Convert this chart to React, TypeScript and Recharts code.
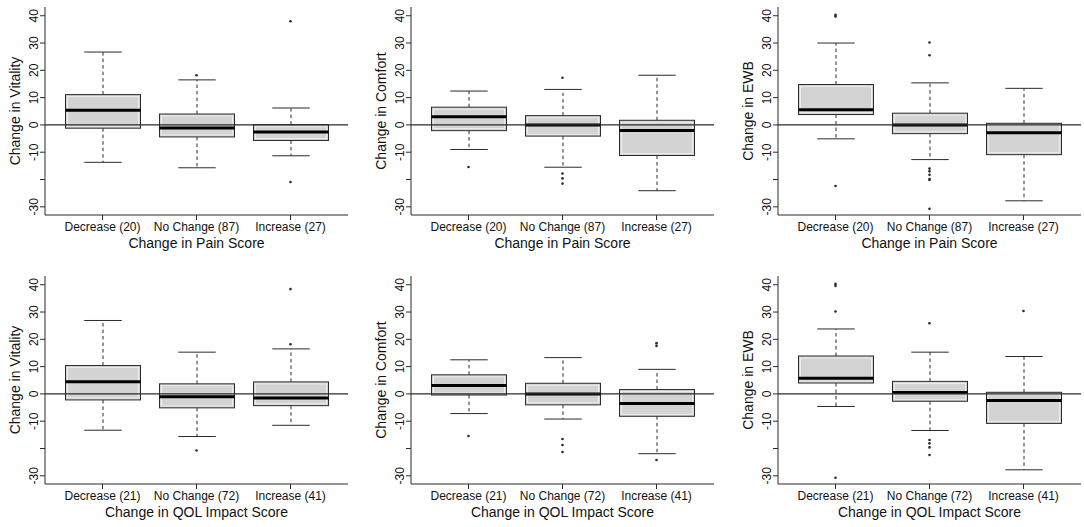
import React from "react";
import {
  Bar,
  ComposedChart,
  Label,
  ReferenceDot,
  ReferenceLine,
  XAxis,
  YAxis,
} from "recharts";

// group labels shown under each box
const painGroups = ["Decrease (20)", "No Change (87)", "Increase (27)"];
const qolGroups = ["Decrease (21)", "No Change (72)", "Increase (41)"];
const yTicks = [-30, -20, -10, 0, 10, 20, 30, 40];

// [lower whisker, Q1, median, Q3, upper whisker] per group
const vitalityPainStats = [
  [-13.7, -1.2, 5.4, 11.1, 26.7],
  [-15.7, -4.4, -1.1, 4.0, 16.5],
  [-11.3, -5.7, -2.6, 0.1, 6.2],
];
const vitalityPainOutliers = [[], [18.2], [38.0, -20.9]];

const comfortPainStats = [
  [-9.0, -2.1, 3.0, 6.5, 12.4],
  [-15.5, -4.1, 0, 3.4, 13.0],
  [-24.1, -11.2, -2.0, 1.7, 18.2],
];
const comfortPainOutliers = [[-15.4], [17.3, -17.8, -19.6, -21.5], []];

const ewbPainStats = [
  [-5.1, 3.8, 5.6, 14.8, 30.0],
  [-12.7, -3.2, 0, 4.3, 15.4],
  [-27.8, -10.9, -2.9, 0.6, 13.4],
];
const ewbPainOutliers = [
  [40.3, 39.7, -22.4],
  [30.2, 25.5, -16.0, -17.0, -18.3, -19.8, -20.2, -30.7],
  [],
];

const vitalityQolStats = [
  [-13.3, -2.2, 4.5, 10.4, 26.9],
  [-15.6, -5.1, -1.0, 3.7, 15.3],
  [-11.5, -4.3, -1.5, 4.4, 16.5],
];
const vitalityQolOutliers = [[], [-20.7], [38.4, 18.2]];

const comfortQolStats = [
  [-7.2, -0.4, 3.1, 7.0, 12.5],
  [-9.2, -4.0, 0, 3.9, 13.3],
  [-21.9, -8.2, -3.5, 1.6, 9.0],
];
const comfortQolOutliers = [[-15.4], [-16.5, -18.7, -21.3], [18.6, 17.6, -24.2]];

const ewbQolStats = [
  [-4.6, 4.0, 5.7, 13.9, 23.8],
  [-13.4, -2.7, 0.5, 4.6, 15.3],
  [-27.8, -10.8, -2.4, 0.6, 13.7],
];
const ewbQolOutliers = [
  [40.3, 39.6, 30.2, -30.7],
  [25.9, -16.9, -18.1, -19.6, -22.4],
  [30.4],
];

const panels = [
  { yLabel: "Change in Vitality", xLabel: "Change in Pain Score", groups: painGroups, stats: vitalityPainStats, outliers: vitalityPainOutliers },
  { yLabel: "Change in Comfort", xLabel: "Change in Pain Score", groups: painGroups, stats: comfortPainStats, outliers: comfortPainOutliers },
  { yLabel: "Change in EWB", xLabel: "Change in Pain Score", groups: painGroups, stats: ewbPainStats, outliers: ewbPainOutliers },
  { yLabel: "Change in Vitality", xLabel: "Change in QOL Impact Score", groups: qolGroups, stats: vitalityQolStats, outliers: vitalityQolOutliers },
  { yLabel: "Change in Comfort", xLabel: "Change in QOL Impact Score", groups: qolGroups, stats: comfortQolStats, outliers: comfortQolOutliers },
  { yLabel: "Change in EWB", xLabel: "Change in QOL Impact Score", groups: qolGroups, stats: ewbQolStats, outliers: ewbQolOutliers },
];

const FONT = '"Liberation Sans", Arial, Helvetica, sans-serif';
const INK = "#2b2b2b";
const CHART_W = 350;
const CHART_H = 258;
const Y_DOMAIN: [number, number] = [-33, 43.2];
const colLefts = [0, 366, 733];
const rowTops = [0, 269];

function BoxShape(props: any) {
  const { x, y, width, height, payload } = props;
  const top = Math.min(y, y + height);
  const bottom = Math.max(y, y + height);
  const { low, q1, med, q3, high } = payload;
  // map values onto the bar's own pixel span (low..high)
  const py = (v: number) => bottom - ((v - low) / (high - low)) * (bottom - top);
  const cx = x + width / 2;
  const cap = width / 4;
  return (
    <g>
      <line x1={cx} x2={cx} y1={py(q3)} y2={py(high)} stroke={INK} strokeDasharray="3.5 3" />
      <line x1={cx} x2={cx} y1={py(q1)} y2={py(low)} stroke={INK} strokeDasharray="3.5 3" />
      <line x1={cx - cap} x2={cx + cap} y1={py(high)} y2={py(high)} stroke={INK} />
      <line x1={cx - cap} x2={cx + cap} y1={py(low)} y2={py(low)} stroke={INK} />
      <rect x={x} y={py(q3)} width={width} height={py(q1) - py(q3)} fill="#d3d3d3" stroke={INK} />
      <rect
        x={x + 2}
        y={py(q3) + 2}
        width={width - 4}
        height={Math.max(0, py(q1) - py(q3) - 4)}
        fill="none"
        stroke="#f2f2f2"
        strokeOpacity={0.8}
      />
      <line x1={x} x2={x + width} y1={py(med)} y2={py(med)} stroke="#000" strokeWidth={3} />
    </g>
  );
}

const XTick = ({ x, y, payload }: any) => (
  <text x={x} y={y} dy={9} textAnchor="middle" fontSize={12} fill="#111" fontFamily={FONT}>
    {payload.value}
  </text>
);

const YTick = ({ x, y, payload }: any) =>
  payload.value === -20 ? null : (
    <text
      x={x}
      y={y}
      transform={`rotate(-90, ${x}, ${y})`}
      textAnchor="middle"
      fontSize={12}
      fill="#111"
      fontFamily={FONT}
    >
      {payload.value}
    </text>
  );

function BoxPanel({ panel }: { panel: (typeof panels)[number] }) {
  const rows = panel.groups.map((g, i) => {
    const [low, q1, med, q3, high] = panel.stats[i];
    return { group: g, whisker: [low, high], low, q1, med, q3, high };
  });
  const dots = panel.groups.flatMap((g, i) => panel.outliers[i].map((v) => ({ group: g, value: v })));

  return (
    <ComposedChart
      width={CHART_W}
      height={CHART_H}
      data={rows}
      margin={{ top: 7, right: 2, bottom: 0, left: 0 }}
    >
      <XAxis
        dataKey="group"
        type="category"
        height={43}
        padding={{ left: 10.5, right: 10.5 }}
        tick={<XTick />}
        tickSize={5}
        tickLine={{ stroke: INK }}
        axisLine={{ stroke: INK }}
        interval={0}
      >
        <Label
          content={({ viewBox }: any) => (
            <text
              x={viewBox.x + viewBox.width / 2}
              y={viewBox.y + 33}
              textAnchor="middle"
              fontSize={14}
              fill="#111"
              fontFamily={FONT}
            >
              {panel.xLabel}
            </text>
          )}
        />
      </XAxis>
      <XAxis
        xAxisId="top"
        dataKey="group"
        type="category"
        orientation="top"
        height={0}
        tick={false}
        tickLine={false}
        axisLine={{ stroke: INK }}
      />
      <YAxis
        type="number"
        domain={Y_DOMAIN}
        ticks={yTicks}
        interval={0}
        allowDataOverflow
        width={45}
        tick={<YTick />}
        tickSize={5}
        tickLine={{ stroke: INK }}
        axisLine={{ stroke: INK }}
      >
        <Label
          content={({ viewBox }: any) => {
            const cx = viewBox.x + viewBox.width - 25.5;
            const cy = viewBox.y + viewBox.height / 2;
            return (
              <text
                x={cx}
                y={cy}
                transform={`rotate(-90, ${cx}, ${cy})`}
                textAnchor="middle"
                fontSize={14}
                fill="#111"
                fontFamily={FONT}
              >
                {panel.yLabel}
              </text>
            );
          }}
        />
      </YAxis>
      <YAxis
        yAxisId="right"
        type="number"
        orientation="right"
        domain={Y_DOMAIN}
        allowDataOverflow
        width={0}
        tick={false}
        tickLine={false}
        axisLine={{ stroke: INK }}
      />
      <Bar dataKey="whisker" barSize={75} shape={<BoxShape />} isAnimationActive={false} />
      <ReferenceLine y={0} stroke={INK} strokeWidth={1.2} />
      {dots.map((d, i) => (
        <ReferenceDot key={i} x={d.group} y={d.value} r={1.3} fill={INK} stroke="none" />
      ))}
    </ComposedChart>
  );
}

export default function App() {
  return (
    <div
      style={{
        position: "absolute",
        left: 0,
        top: 0,
        width: 1084,
        height: 527,
        overflow: "hidden",
        background: "#fff",
      }}
    >
      {panels.map((p, i) => (
        <div
          key={i}
          style={{
            position: "absolute",
            left: colLefts[i % 3],
            top: rowTops[Math.floor(i / 3)],
          }}
        >
          <BoxPanel panel={p} />
        </div>
      ))}
    </div>
  );
}
